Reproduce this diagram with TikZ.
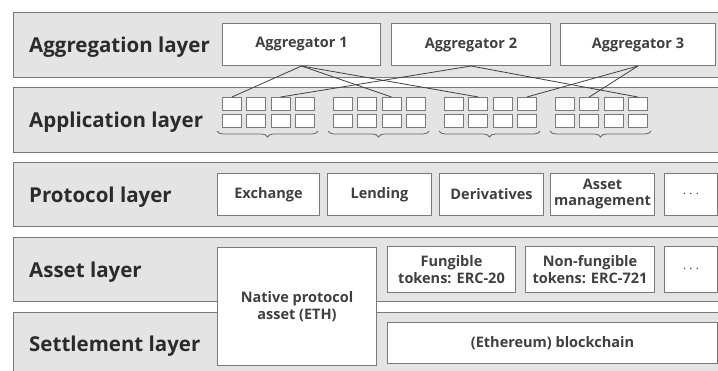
\documentclass[tikz,border=0pt]{standalone}
\usepackage{fontspec}
\setmainfont{Open Sans}
\usetikzlibrary{decorations.pathreplacing}
\definecolor{bandgray}{HTML}{E4E4E4}
\definecolor{edgegray}{HTML}{7A7A7A}
\definecolor{inkgray}{HTML}{2B2B2B}

\begin{document}
\begin{tikzpicture}[x=1pt, y=-1pt,
  band/.style={draw=edgegray, fill=bandgray, line width=1.2pt, anchor=north west, inner sep=0pt},
  layer/.style={anchor=base west, inner sep=0pt, text=inkgray, font=\fontsize{20.5}{22}\selectfont\bfseries},
  box/.style={draw=edgegray, fill=white, line width=1pt, anchor=north west, inner sep=0pt, align=center, text=black!75, font=\fontsize{14.5}{17}\selectfont\bfseries},
  cell/.style={draw=edgegray, fill=white, line width=0.9pt, anchor=north west, inner sep=0pt, minimum width=19pt, minimum height=13pt},
  link/.style={draw=black!75, line width=0.8pt},
  groupbrace/.style={draw=black!60, line width=0.8pt, decorate, decoration={brace, amplitude=6pt, mirror}}]
  \useasboundingbox (0,0) rectangle (718,370);

  % --- Layer bands ---
  \node[band, minimum width=720pt, minimum height=65pt] (aggBand) at (13,12) {};
  \node[band, minimum width=720pt, minimum height=65pt] (appBand) at (13,87) {};
  \node[band, minimum width=720pt, minimum height=64pt] (protoBand) at (13,162) {};
  \node[band, minimum width=720pt, minimum height=64pt] (assetBand) at (13,237) {};
  \node[band, minimum width=720pt, minimum height=65pt] (settleBand) at (13,312) {};

  \node[layer] (aggLabel) at (29,52.5) {Aggregation layer};
  \node[layer] (appLabel) at (29,127) {Application layer};
  \node[layer] (protoLabel) at (29,202) {Protocol layer};
  \node[layer] (assetLabel) at (29,277) {Asset layer};
  \node[layer] (settleLabel) at (29,351) {Settlement layer};

  % --- Aggregators ---
  \node[box, minimum width=158pt, minimum height=42pt] (agg1) at (222,23) {Aggregator 1};
  \node[box, minimum width=159pt, minimum height=42pt] (agg2) at (391,23) {Aggregator 2};
  \node[box, minimum width=155pt, minimum height=42pt] (agg3) at (560,23) {Aggregator 3};

  % --- Applications: four groups of 2x4 cells ---
  \foreach \g in {1,...,4} {
    \foreach \r in {1,2} {
      \foreach \c in {1,...,4} {
        \node[cell] (cell-\g-\r-\c) at ({222+111*(\g-1)+24.3*(\c-1)}, {97+17*(\r-1)}) {};
      }
    }
    \draw[groupbrace] ({217+111*(\g-1)},131) -- ({318+111*(\g-1)},131);
  }

  % --- Protocols ---
  \node[box, minimum width=102pt, minimum height=42pt] (exchange) at (217,173) {Exchange};
  \node[box, minimum width=104pt, minimum height=42pt] (lending) at (327,173) {Lending};
  \node[box, minimum width=104pt, minimum height=42pt] (derivs) at (439,173) {Derivatives};
  \node[box, minimum width=104pt, minimum height=42pt] (assetMgmt) at (550,173) {Asset\\[-1pt]management};
  \node[box, minimum width=53pt, minimum height=42pt] (protoMore) at (664,173) {$\cdots$};

  % --- Assets and settlement ---
  \node[box, minimum width=159pt, minimum height=118pt] (native) at (217,247) {Native protocol\\asset (ETH)};
  \node[box, minimum width=128pt, minimum height=46pt] (fungible) at (387,246) {Fungible\\tokens: ERC-20};
  \node[box, minimum width=129pt, minimum height=46pt] (nonFungible) at (525,246) {Non-fungible\\tokens: ERC-721};
  \node[box, minimum width=53pt, minimum height=46pt] (assetMore) at (664,246) {$\cdots$};
  \node[box, minimum width=330pt, minimum height=41pt] (chain) at (387,322) {(Ethereum) blockchain};

  % --- Aggregator links ---
  \draw[link] (agg1.south) -- (cell-1-1-1.north);
  \draw[link] (agg1.south) -- (cell-2-1-3.north);
  \draw[link] (agg1.south) -- (cell-3-1-2.north);
  \draw[link] (agg2.south) -- (cell-1-1-3.north);
  \draw[link] (agg2.south) -- (cell-4-1-4.north);
  \draw[link] (agg3.south) -- (cell-3-1-4.north);
  \draw[link] (agg3.south) -- (cell-4-1-2.north);
\end{tikzpicture}
\end{document}
